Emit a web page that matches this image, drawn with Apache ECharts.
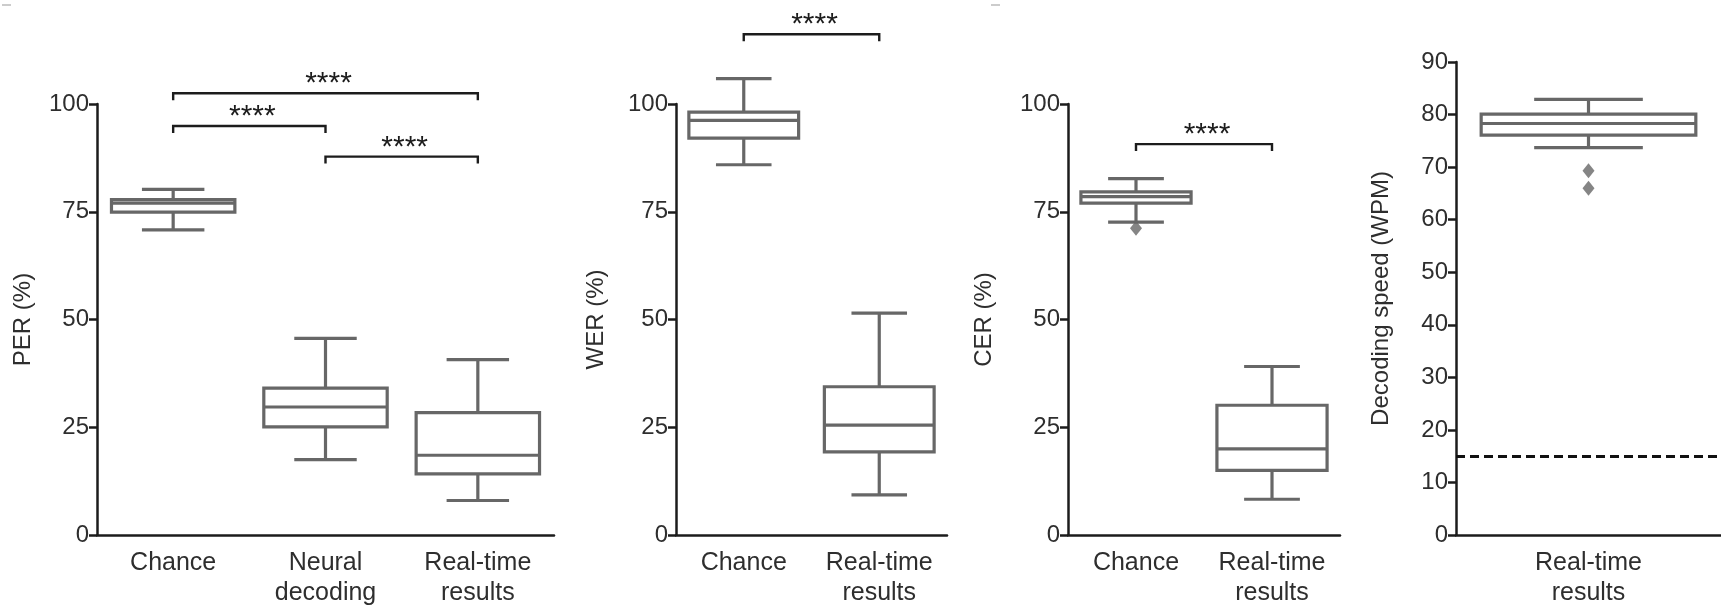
<!DOCTYPE html>
<html lang="en">
<head>
    <meta charset="UTF-8">
    <title>Decoding error rates and speed</title>
    <script src="https://cdn.jsdelivr.net/npm/echarts@6/dist/echarts.min.js"></script>
    <style>
        html, body { margin: 0; padding: 0; background: #fff; }
    </style>
</head>
<body>
<div style="width: 1721px; height: 608px" id="main"></div>

<script type="text/javascript">
    // categories per panel
    var perCats = ['Chance', 'Neural\ndecoding', 'Real-time\nresults'];
    var werCats = ['Chance', 'Real-time\nresults'];
    var cerCats = ['Chance', 'Real-time\nresults'];
    var speedCats = ['Real-time\nresults'];

    // box stats: [category index, low whisker, Q1, median, Q3, high whisker]
    var perBoxes = [
        [0, 70.8, 74.9, 77.0, 77.8, 80.2],
        [1, 17.5, 25.1, 29.7, 34.1, 45.6],
        [2, 8.0, 14.2, 18.5, 28.4, 40.7]
    ];
    var werBoxes = [
        [0, 85.9, 92.1, 96.2, 98.1, 105.9],
        [1, 9.3, 19.3, 25.5, 34.4, 51.5]
    ];
    var cerBoxes = [
        [0, 72.6, 77.0, 78.5, 79.6, 82.7],
        [1, 8.3, 15.0, 20.0, 30.1, 39.1]
    ];
    var speedBoxes = [
        [0, 73.7, 76.1, 78.3, 80.1, 82.9]
    ];

    // outliers: [category index, value]
    var cerOutliers = [[0, 71.2]];
    var speedOutliers = [[0, 69.3], [0, 66.0]];

    // significance brackets: [from index, to index, height]
    var perSig = [[0, 2, 102.5], [0, 1, 94.9], [1, 2, 87.8]];
    var werSig = [[0, 1, 116.2]];
    var cerSig = [[0, 1, 90.7]];
    var sigText = '****';

    // reference line for speed panel
    var speedRef = 15;

    var boxColor = '#676767';
    var inkColor = '#1c1c1c';
    var textColor = '#2e2e2e';
    var fontName = 'Liberation Sans, Arial, sans-serif';

    var myChart = echarts.init(document.getElementById('main'));

    function renderBox(params, api) {
        var x = api.value(0);
        var lo = api.coord([x, api.value(1)]);
        var q1 = api.coord([x, api.value(2)]);
        var md = api.coord([x, api.value(3)]);
        var q3 = api.coord([x, api.value(4)]);
        var hi = api.coord([x, api.value(5)]);
        var band = api.size([1, 0])[0];
        var bw = band * 0.81, cw = band * 0.41;
        var cx = md[0];
        var st = { stroke: boxColor, lineWidth: 3.2, fill: null };
        return {
            type: 'group',
            children: [
                { type: 'line', shape: { x1: cx, y1: hi[1], x2: cx, y2: q3[1] }, style: st },
                { type: 'line', shape: { x1: cx - cw / 2, y1: hi[1], x2: cx + cw / 2, y2: hi[1] }, style: st },
                { type: 'line', shape: { x1: cx, y1: q1[1], x2: cx, y2: lo[1] }, style: st },
                { type: 'line', shape: { x1: cx - cw / 2, y1: lo[1], x2: cx + cw / 2, y2: lo[1] }, style: st },
                { type: 'rect', shape: { x: cx - bw / 2, y: q3[1], width: bw, height: q1[1] - q3[1] },
                    style: { stroke: boxColor, lineWidth: 3.2, fill: 'rgba(255,255,255,0)' } },
                { type: 'line', shape: { x1: cx - bw / 2, y1: md[1], x2: cx + bw / 2, y2: md[1] }, style: st }
            ]
        };
    }

    function renderSig(params, api) {
        var a = api.coord([api.value(0), api.value(2)]);
        var b = api.coord([api.value(1), api.value(2)]);
        var stem = 7;
        return {
            type: 'group',
            children: [
                { type: 'polyline',
                    shape: { points: [[a[0], a[1] + stem], [a[0], a[1]], [b[0], b[1]], [b[0], b[1] + stem]] },
                    style: { stroke: inkColor, lineWidth: 2.4, fill: null } },
                { type: 'text',
                    style: { x: (a[0] + b[0]) / 2 + 3, y: a[1] - 9, text: sigText, align: 'center',
                        verticalAlign: 'middle', fill: inkColor, font: '30px ' + fontName } }
            ]
        };
    }

    var grids = [
        { left: 97, top: 104, width: 457, height: 432 },
        { left: 676, top: 104, width: 271, height: 432 },
        { left: 1068, top: 104, width: 272, height: 432 },
        { left: 1456, top: 62, width: 272, height: 474 }
    ];

    function xAx(i, cats) {
        return {
            type: 'category', gridIndex: i, data: cats,
            axisLine: { lineStyle: { color: inkColor, width: 2.5 } },
            axisTick: { alignWithLabel: true, interval: 0, length: 10, lineStyle: { color: inkColor, width: 2.5 } },
            axisLabel: { interval: 0, hideOverlap: false, fontSize: 25, lineHeight: 30, margin: 13,
                color: textColor, fontFamily: fontName },
            splitLine: { show: false }
        };
    }

    function yAx(i, name, max, interval, gap) {
        return {
            type: 'value', gridIndex: i, min: 0, max: max, interval: interval,
            name: name, nameLocation: 'middle', nameGap: gap, nameRotate: 90,
            nameTextStyle: { fontSize: 24, color: textColor, fontFamily: fontName },
            axisLine: { show: true, lineStyle: { color: inkColor, width: 2.5 } },
            axisTick: { show: true, length: 8, lineStyle: { color: inkColor, width: 2.5 } },
            axisLabel: { fontSize: 24, margin: 8, color: textColor, fontFamily: fontName },
            splitLine: { show: false }
        };
    }

    function boxSeries(i, data) {
        return {
            type: 'custom', xAxisIndex: i, yAxisIndex: i, renderItem: renderBox,
            data: data, encode: { x: 0, y: [1, 2, 3, 4, 5] }, clip: false, silent: true, z: 3
        };
    }

    function sigSeries(i, data) {
        return {
            type: 'custom', xAxisIndex: i, yAxisIndex: i, renderItem: renderSig,
            data: data, encode: { x: [0, 1], y: 2 }, clip: false, silent: true, z: 4
        };
    }

    function outlierSeries(i, data) {
        return {
            type: 'scatter', xAxisIndex: i, yAxisIndex: i, data: data,
            symbol: 'diamond', symbolSize: [12, 15],
            itemStyle: { color: boxColor }, silent: true, z: 5
        };
    }

    var option = {
        animation: false,
        textStyle: { fontFamily: fontName },
        grid: grids,
        xAxis: [xAx(0, perCats), xAx(1, werCats), xAx(2, cerCats), xAx(3, speedCats)],
        yAxis: [
            yAx(0, 'PER (%)', 100, 25, 62),
            yAx(1, 'WER (%)', 100, 25, 68),
            yAx(2, 'CER (%)', 100, 25, 72),
            yAx(3, 'Decoding speed (WPM)', 90, 10, 63)
        ],
        graphic: [
            { type: 'line', shape: { x1: 2, y1: 5, x2: 11, y2: 5 }, style: { stroke: '#999', lineWidth: 1 } },
            { type: 'line', shape: { x1: 991, y1: 5, x2: 1000, y2: 5 }, style: { stroke: '#999', lineWidth: 1 } }
        ],
        series: [
            boxSeries(0, perBoxes),
            sigSeries(0, perSig),
            boxSeries(1, werBoxes),
            sigSeries(1, werSig),
            boxSeries(2, cerBoxes),
            outlierSeries(2, cerOutliers),
            sigSeries(2, cerSig),
            {
                type: 'custom', xAxisIndex: 3, yAxisIndex: 3, renderItem: renderBox,
                data: speedBoxes, encode: { x: 0, y: [1, 2, 3, 4, 5] }, clip: false, silent: true, z: 3,
                markLine: {
                    silent: true, symbol: 'none', label: { show: false },
                    lineStyle: { color: '#111', width: 3, type: [9, 5] },
                    data: [{ yAxis: speedRef }]
                }
            },
            outlierSeries(3, speedOutliers)
        ]
    };

    myChart.setOption(option);
</script>
</body>
</html>
